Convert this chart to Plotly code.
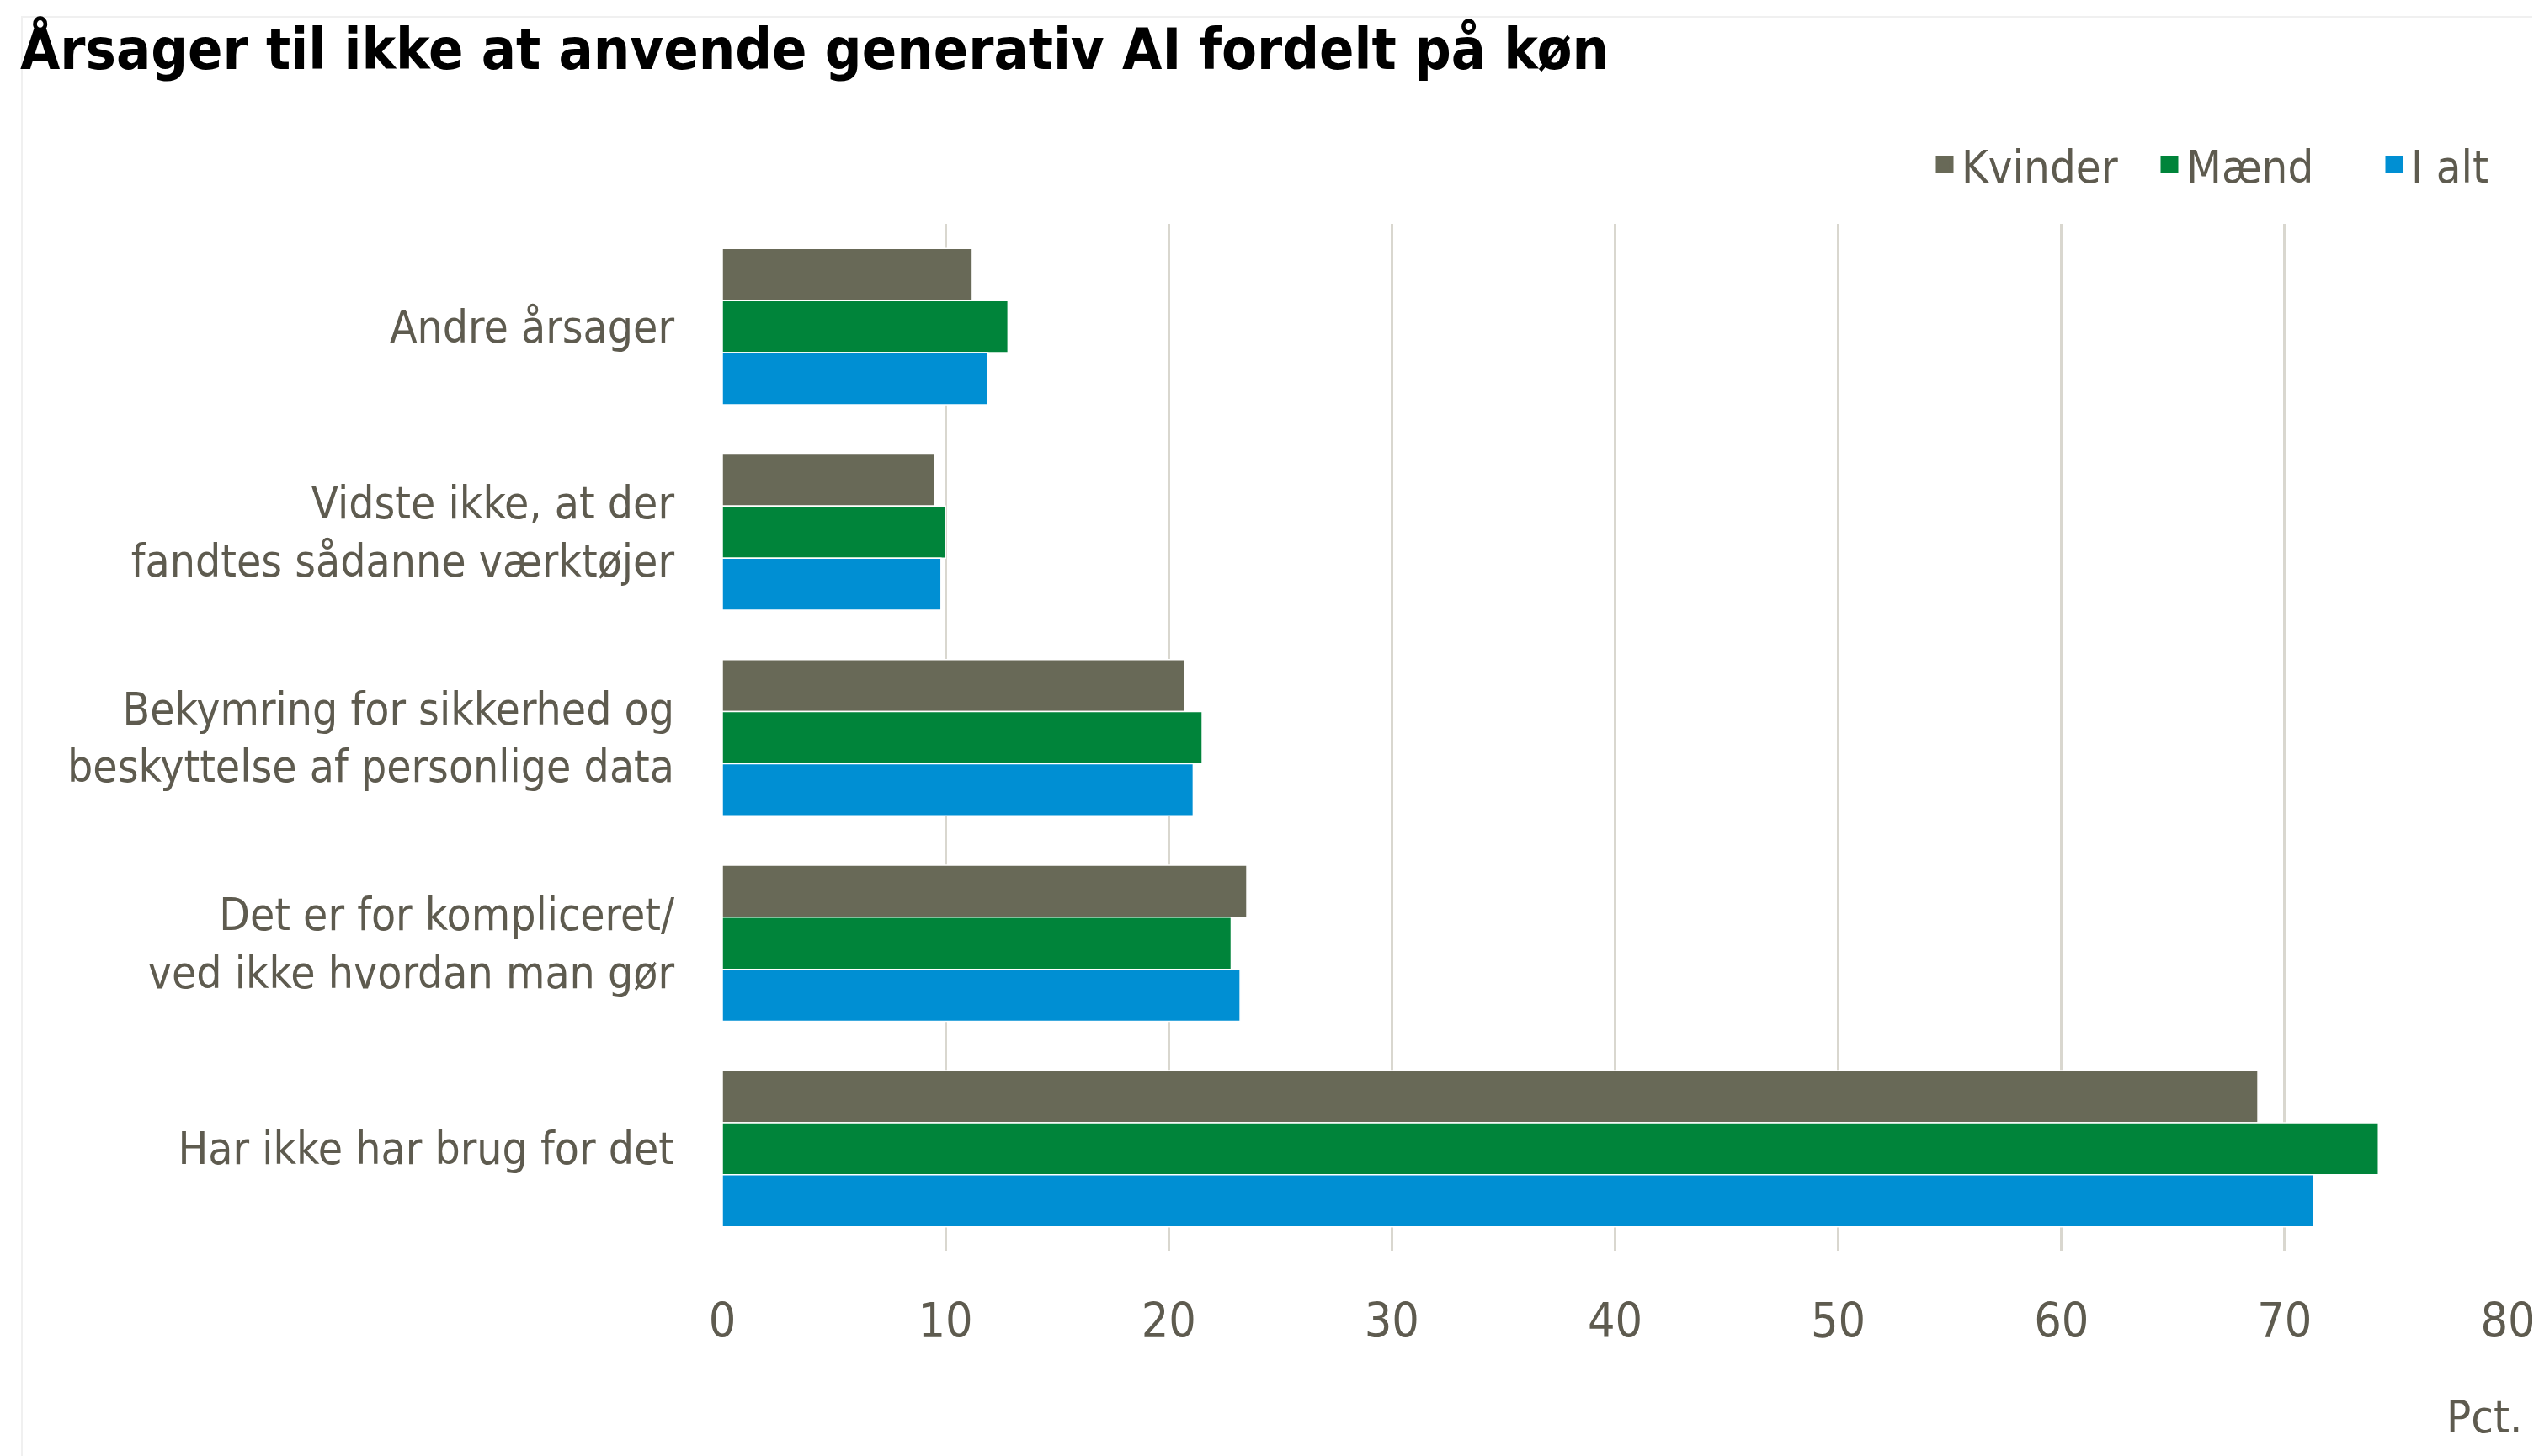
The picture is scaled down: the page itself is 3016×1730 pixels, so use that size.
import plotly.graph_objects as go

categories = [
    "Andre årsager",
    "Vidste ikke, at der<br>fandtes sådanne værktøjer",
    "Bekymring for sikkerhed og<br>beskyttelse af personlige data",
    "Det er for kompliceret/<br>ved ikke hvordan man gør",
    "Har ikke har brug for det",
]
kvinder = [11.2, 9.5, 20.7, 23.5, 68.8]
maend = [12.8, 10.0, 21.5, 22.8, 74.2]
i_alt = [11.9, 9.8, 21.1, 23.2, 71.3]

series_names = ["Kvinder", "Mænd", "I alt"]
series_values = [kvinder, maend, i_alt]
series_colors = ["#686957", "#00843A", "#008FD3"]

x_ticks = [0, 10, 20, 30, 40, 50, 60, 70, 80]

FONT = "Liberation Sans Narrow, Arial Narrow, DejaVu Sans Condensed, sans-serif"
TXT = "#5E5B4F"

L, R, T, B = 850, 45, 258, 251
PW = 3016 - L - R
PH = 1730 - T - B

fig = go.Figure()
for name, vals, col in zip(series_names, series_values, series_colors):
    fig.add_trace(go.Bar(
        y=categories, x=vals, name=name, orientation="h",
        marker=dict(color=col, line=dict(color="white", width=1.5)),
        showlegend=False,
    ))
for name, col in zip(series_names, series_colors):
    fig.add_trace(go.Scatter(
        x=[None], y=[None], mode="markers", name=name,
        marker=dict(symbol="square", size=16, color=col,
                    line=dict(color=col, width=5)),
        showlegend=True,
    ))

fig.update_layout(
    width=3016, height=1730,
    paper_bgcolor="white", plot_bgcolor="white",
    margin=dict(l=L, r=R, t=T, b=B, autoexpand=False),
    barmode="group", bargap=0.24, bargroupgap=0,
    font=dict(family=FONT, color=TXT, size=54),
    title=dict(
        text="<b>Årsager til ikke at anvende generativ AI fordelt på køn</b>",
        x=16 / 3016, xanchor="left", xref="container",
        y=1 - 50 / 1730, yanchor="middle", yref="container",
        font=dict(family=FONT, size=68, color="black"),
    ),
    legend=dict(
        orientation="h", x=(2282 - L) / PW, xanchor="left",
        y=1 + (T - 188) / PH, yanchor="middle",
        font=dict(size=54, color=TXT), itemwidth=30,
        entrywidth=222, entrywidthmode="pixels",
        bgcolor="rgba(0,0,0,0)", traceorder="normal",
    ),
    xaxis=dict(
        range=[0, 80], tickvals=x_ticks, ticktext=[str(v) for v in x_ticks],
        showgrid=True, gridcolor="#D9D7CF", gridwidth=3,
        zeroline=False, showline=False, ticks="", automargin=False,
        tickfont=dict(size=57, color=TXT), ticklabelstandoff=44,
        fixedrange=True,
    ),
    yaxis=dict(
        autorange="reversed", showgrid=False, zeroline=False, showline=False,
        ticks="", automargin=False,
        tickfont=dict(size=53, color=TXT), ticklabelstandoff=56,
    ),
    annotations=[dict(
        text="Pct.", xref="paper", yref="paper", x=1.009, y=-(1675 - (T + PH)) / PH,
        xanchor="right", yanchor="middle", showarrow=False,
        font=dict(size=54, color=TXT),
    )],
    shapes=[dict(
        type="rect", xref="paper", yref="paper",
        x0=-(L - 18) / PW, x1=1 + (R - 10) / PW, y0=-(B - 4) / PH,
        y1=1 + (T - 12) / PH, line=dict(color="#F0F0F0", width=2),
        layer="below",
    )],
)

fig.write_html("out.html")
